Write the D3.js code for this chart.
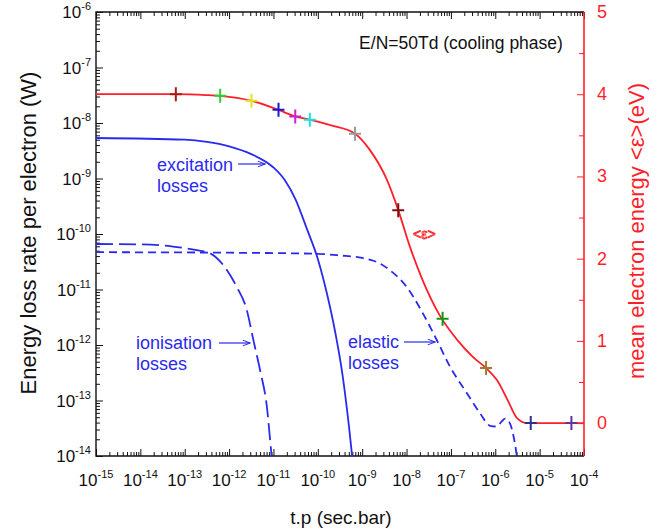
<!DOCTYPE html>
<html>
<head>
<meta charset="utf-8">
<script src="https://cdn.jsdelivr.net/npm/d3@7"></script>
<style>
  body { margin: 0; background: #fff; }
  svg { font-family: "Liberation Sans", Arial, sans-serif; }
</style>
</head>
<body>
<div id="chart"></div>

<script>
// tick labels
var xExps = [-15, -14, -13, -12, -11, -10, -9, -8, -7, -6, -5, -4];
var yExps = [-6, -7, -8, -9, -10, -11, -12, -13, -14];
var rightTicks = [0, 1, 2, 3, 4, 5];

// mean electron energy <eps> (eV), right axis
var epsT   = [1e-15, 1e-14, 6.3e-14, 3e-13, 6.3e-13, 3.2e-12, 1.3e-11, 3.1e-11, 6.6e-11, 2e-10, 6.9e-10, 1.5e-9, 3.6e-9, 6.5e-9, 1.2e-8, 2.3e-8, 5.6e-8, 1.4e-7, 3.2e-7, 6.2e-7, 1.1e-6, 1.9e-6, 3.1e-6, 5.2e-6, 1e-4];
var epsVal = [4.0, 4.0, 4.0, 3.99, 3.98, 3.92, 3.81, 3.73, 3.69, 3.62, 3.52, 3.32, 2.96, 2.59, 2.14, 1.74, 1.31, 1.01, 0.80, 0.67, 0.52, 0.28, 0.06, 0.0, 0.0];

// cross markers on the <eps> curve
var markT   = [6.3e-14, 6.3e-13, 3.2e-12, 1.3e-11, 3.1e-11, 6.6e-11, 6.9e-10, 6.5e-9, 6.5e-8, 6.2e-7, 6.3e-6, 5.2e-5];
var markEps = [4.0, 3.98, 3.92, 3.81, 3.73, 3.69, 3.52, 2.59, 1.27, 0.67, 0.0, 0.0];
var markColors = ["#b01818", "#33cc33", "#e8e020", "#1a1acc", "#cc22cc", "#22dddd", "#9a9a9a", "#801010", "#129912", "#a07a30", "#303090", "#663399"];

// excitation losses (W)
var excT = [1e-15, 1e-13, 3.16e-13, 1e-12, 3.16e-12, 1e-11, 1.78e-11, 3.16e-11, 5.62e-11, 1e-10, 1.58e-10, 2.51e-10, 3.55e-10, 5.01e-10, 6.31e-10];
var excV = [5.37e-9, 5.01e-9, 4.57e-9, 3.8e-9, 2.75e-9, 1.58e-9, 9.5e-10, 4.17e-10, 1.26e-10, 3.55e-11, 8.9e-12, 1.58e-12, 3.16e-13, 3.55e-14, 6.3e-15];

// ionisation losses (W)
var ionT = [1e-15, 1e-14, 5e-14, 1.86e-13, 3.7e-13, 7.4e-13, 1.48e-12, 2.5e-12, 3.5e-12, 5e-12, 7.1e-12, 9.1e-12, 1e-11];
var ionV = [6.6e-11, 6.5e-11, 6.0e-11, 5.1e-11, 4.5e-11, 2.75e-11, 1.12e-11, 4.3e-12, 1.26e-12, 3.5e-13, 7.8e-14, 1e-14, 5e-15];

// elastic losses (W)
var elaT = [1e-15, 1e-12, 1e-10, 3.2e-10, 1e-9, 1.8e-9, 2.8e-9, 4.3e-9, 1e-8, 2.3e-8, 4.8e-8, 9.5e-8, 2.3e-7, 4.6e-7, 7.6e-7, 1.07e-6, 1.4e-6, 1.66e-6, 2.1e-6, 2.6e-6, 3.2e-6];
var elaV = [4.7e-11, 4.6e-11, 4.4e-11, 4.1e-11, 3.7e-11, 3.3e-11, 2.8e-11, 2.2e-11, 1.12e-11, 3.8e-12, 1.23e-12, 4.1e-13, 1.35e-13, 5.8e-14, 3.5e-14, 3.4e-14, 4.2e-14, 4.7e-14, 4.0e-14, 2.2e-14, 7.9e-15];

var W = 670, H = 531;
var pL = 96, pR = 584, pT = 12, pB = 456;
var blue = "#2a2aee", red = "#ff1f2a";

var svg = d3.select("#chart").append("svg")
  .attr("width", W).attr("height", H);

var x = d3.scaleLog().domain([1e-15, 1e-4]).range([pL, pR]);
var y = d3.scaleLog().domain([1e-14, 1e-6]).range([pB, pT]);
var yR = d3.scaleLinear().domain([-0.4, 5]).range([pB, pT]);

svg.append("clipPath").attr("id", "clip")
  .append("rect").attr("x", pL).attr("y", pT)
  .attr("width", pR - pL).attr("height", pB - pT);

function isPow10(v) { return Math.abs(Math.log10(v) - Math.round(Math.log10(v))) < 1e-6; }
var xMajor = xExps.map(function(e) { return Math.pow(10, e); });
var yMajor = yExps.map(function(e) { return Math.pow(10, e); });
var xMinor = x.ticks(20).filter(function(v) { return !isPow10(v); });
var yMinor = y.ticks(20).filter(function(v) { return !isPow10(v); });

function axisG(gen, tx, ty) {
  var g = svg.append("g").attr("transform", "translate(" + tx + "," + ty + ")").call(gen);
  g.selectAll("text").remove();
  g.select(".domain").remove();
  g.selectAll("line").attr("stroke", "#111").attr("stroke-width", 1);
  return g;
}

// bottom / top axes
axisG(d3.axisBottom(x).tickValues(xMajor).tickSize(-7).tickSizeOuter(0), 0, pB);
axisG(d3.axisBottom(x).tickValues(xMinor).tickSize(-4).tickSizeOuter(0), 0, pB);
axisG(d3.axisTop(x).tickValues(xMajor).tickSize(-7).tickSizeOuter(0), 0, pT);
axisG(d3.axisTop(x).tickValues(xMinor).tickSize(-4).tickSizeOuter(0), 0, pT);
// left axis
axisG(d3.axisLeft(y).tickValues(yMajor).tickSize(-7).tickSizeOuter(0), pL, 0);
axisG(d3.axisLeft(y).tickValues(yMinor).tickSize(-4).tickSizeOuter(0), pL, 0);
// right axis (red, linear)
var rMinor = [0.5, 1.5, 2.5, 3.5, 4.5];
axisG(d3.axisRight(yR).tickValues(rightTicks).tickSize(-7).tickSizeOuter(0), pR, 0)
  .selectAll("line").attr("stroke", red);
axisG(d3.axisRight(yR).tickValues(rMinor).tickSize(-5).tickSizeOuter(0), pR, 0)
  .selectAll("line").attr("stroke", red);

// frame
svg.append("path")
  .attr("d", "M" + pR + "," + pT + "H" + pL + "V" + pB + "H" + pR)
  .attr("fill", "none").attr("stroke", "#111").attr("stroke-width", 1.4);
svg.append("line")
  .attr("x1", pR).attr("x2", pR).attr("y1", pT).attr("y2", pB)
  .attr("stroke", red).attr("stroke-width", 1.6);

// tick labels with superscripts
var xl = svg.append("g").attr("font-size", 17).attr("fill", "#111");
xExps.forEach(function(e) {
  var t = xl.append("text").attr("x", x(Math.pow(10, e))).attr("y", pB + 30)
    .attr("text-anchor", "middle");
  t.append("tspan").text("10");
  t.append("tspan").attr("font-size", 11).attr("dy", -8).text(String(e));
});
var yl = svg.append("g").attr("font-size", 17).attr("fill", "#111");
yExps.forEach(function(e) {
  var t = yl.append("text").attr("x", pL - 5).attr("y", y(Math.pow(10, e)) + 6)
    .attr("text-anchor", "end");
  t.append("tspan").text("10");
  t.append("tspan").attr("font-size", 11).attr("dy", -8).text(String(e));
});
svg.append("g").selectAll("text").data(rightTicks).enter().append("text")
  .attr("x", pR + 13).attr("y", function(d) { return yR(d) + 6; })
  .attr("font-size", 18).attr("fill", red).text(function(d) { return d; });

// axis titles
svg.append("text").attr("transform", "translate(36,233) rotate(-90)")
  .attr("text-anchor", "middle").attr("font-size", 22).attr("fill", "#111")
  .text("Energy loss rate per electron (W)");
svg.append("text").attr("transform", "translate(644,231) rotate(-90)")
  .attr("text-anchor", "middle").attr("font-size", 22).attr("fill", red)
  .text("mean electron energy <\u03b5>(eV)");
svg.append("text").attr("x", 341).attr("y", 524)
  .attr("text-anchor", "middle").attr("font-size", 19).attr("fill", "#111")
  .text("t.p (sec.bar)");
svg.append("text").attr("x", 461).attr("y", 49)
  .attr("text-anchor", "middle").attr("font-size", 17.5).attr("fill", "#111")
  .text("E/N=50Td (cooling phase)");

// curves
var plot = svg.append("g").attr("clip-path", "url(#clip)");
function drawLine(ts, vs, ys, color, dash, width) {
  var pts = ts.map(function(t, i) { return [x(t), ys(vs[i])]; });
  plot.append("path")
    .attr("d", d3.line().curve(d3.curveMonotoneX)(pts))
    .attr("fill", "none").attr("stroke", color)
    .attr("stroke-width", width)
    .attr("stroke-dasharray", dash);
}
drawLine(excT, excV, y, blue, null, 1.8);
drawLine(ionT, ionV, y, blue, "17,6", 1.8);
drawLine(elaT, elaV, y, blue, "8,5", 1.8);
drawLine(epsT, epsVal, yR, red, null, 1.8);

// cross markers
var mk = plot.append("g");
markT.forEach(function(t, i) {
  var cx = x(t), cy = yR(markEps[i]);
  mk.append("path")
    .attr("d", "M" + (cx - 6) + "," + cy + "H" + (cx + 6) + "M" + cx + "," + (cy - 7) + "V" + (cy + 7))
    .attr("stroke", markColors[i]).attr("stroke-width", 2).attr("fill", "none");
});

// annotations
svg.append("defs").append("marker").attr("id", "arr")
  .attr("viewBox", "0 0 10 10").attr("refX", 10).attr("refY", 5)
  .attr("markerWidth", 8).attr("markerHeight", 6).attr("orient", "auto")
  .append("path").attr("d", "M0,1 L10,5 L0,9").attr("fill", "none")
  .attr("stroke", blue).attr("stroke-width", 1.4);

function note(lines, tx, ty, ax1, ax2, ay) {
  var t = svg.append("text").attr("font-size", 18).attr("fill", blue);
  lines.forEach(function(s, i) {
    t.append("tspan").attr("x", tx).attr("y", ty + i * 21).text(s);
  });
  svg.append("line").attr("x1", ax1).attr("x2", ax2).attr("y1", ay).attr("y2", ay)
    .attr("stroke", blue).attr("stroke-width", 1.2).attr("marker-end", "url(#arr)");
}
note(["excitation", "losses"], 157, 171, 238, 265, 164);
note(["ionisation", "losses"], 136, 349, 219, 250, 343);
note(["elastic", "losses"], 348, 348, 404, 435, 342);

svg.append("text").attr("x", 413).attr("y", 239).attr("font-size", 14)
  .attr("fill", "none").attr("stroke", red).attr("stroke-width", 0.8)
  .text("<\u03b5>");
</script>
</body>
</html>
